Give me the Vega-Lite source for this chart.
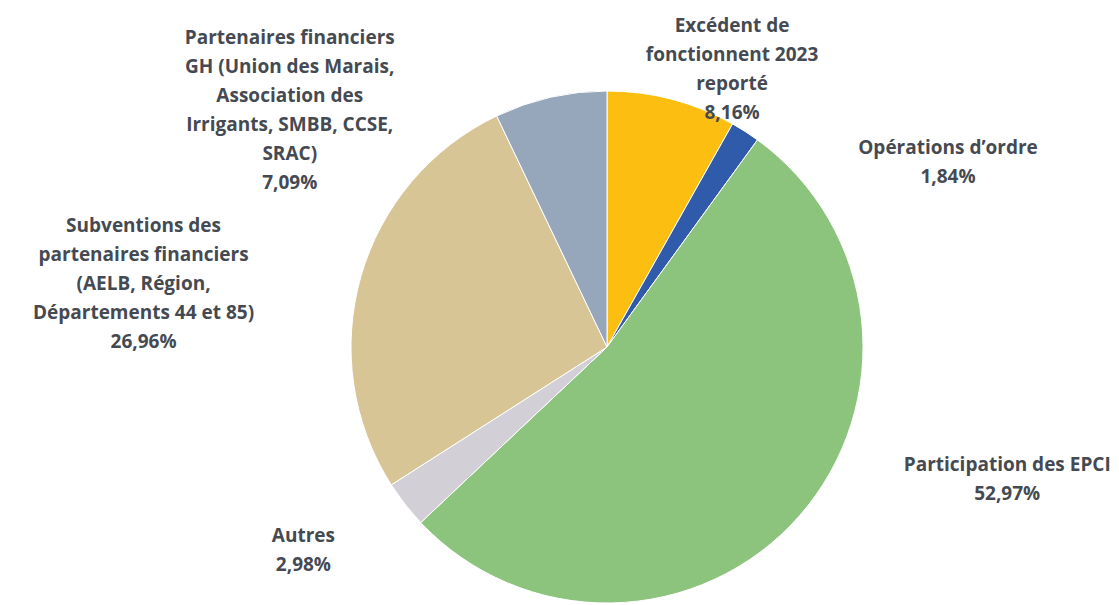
{
  "$schema": "https://vega.github.io/schema/vega-lite/v6.json",
  "width": 1024,
  "height": 516,
  "autosize": {"type": "none"},
  "padding": {"left": 95, "top": 89, "right": 0, "bottom": 0},
  "background": "#ffffff",
  "config": {"view": {"stroke": null}},
  "data": {
    "values": [
      {"ordre": 1, "poste": "Excédent", "label": "Excédent de\nfonctionnent 2023\nreporté\n8,16%", "pct": 8.16},
      {"ordre": 2, "poste": "Opérations", "label": "Opérations d’ordre\n1,84%", "pct": 1.84},
      {"ordre": 3, "poste": "EPCI", "label": "Participation des EPCI\n52,97%", "pct": 52.97},
      {"ordre": 4, "poste": "Autres", "label": "Autres\n2,98%", "pct": 2.98},
      {"ordre": 5, "poste": "Subventions", "label": "Subventions des\npartenaires financiers\n(AELB, Région,\nDépartements 44 et 85)\n26,96%", "pct": 26.96},
      {"ordre": 6, "poste": "GH", "label": "Partenaires financiers\nGH (Union des Marais,\nAssociation des\nIrrigants, SMBB, CCSE,\nSRAC)\n7,09%", "pct": 7.09}
    ]
  },
  "encoding": {
    "theta": {"field": "pct", "type": "quantitative", "stack": true},
    "order": {"field": "ordre", "type": "quantitative"}
  },
  "layer": [
    {
      "mark": {"type": "arc", "outerRadius": 256, "stroke": "#ffffff", "strokeWidth": 1},
      "encoding": {
        "color": {
          "field": "poste", "type": "nominal", "legend": null,
          "scale": {
            "domain": ["Excédent", "Opérations", "EPCI", "Autres", "Subventions", "GH"],
            "range": ["#FDBE12", "#2F5BAA", "#8CC47E", "#D3CFD6", "#D8C596", "#96A6BB"]
          }
        }
      }
    },
    {
      "mark": {"type": "text", "radius": 300, "dx": 49, "dy": -30.5, "lineBreak": "\n", "font": "Open Sans", "fontWeight": "bold", "fontSize": 19, "lineHeight": 29, "align": "center", "baseline": "middle", "color": "#454a52"},
      "encoding": {"text": {"condition": {"test": "datum.ordre == 1", "field": "label"}, "value": ""}}
    },
    {
      "mark": {"type": "text", "radius": 300, "dx": 179, "dy": 53.5, "lineBreak": "\n", "font": "Open Sans", "fontWeight": "bold", "fontSize": 19, "lineHeight": 29, "align": "center", "baseline": "middle", "color": "#454a52"},
      "encoding": {"text": {"condition": {"test": "datum.ordre == 2", "field": "label"}, "value": ""}}
    },
    {
      "mark": {"type": "text", "radius": 300, "dx": 175, "dy": -80.5, "lineBreak": "\n", "font": "Open Sans", "fontWeight": "bold", "fontSize": 19, "lineHeight": 29, "align": "center", "baseline": "middle", "color": "#454a52"},
      "encoding": {"text": {"condition": {"test": "datum.ordre == 3", "field": "label"}, "value": ""}}
    },
    {
      "mark": {"type": "text", "radius": 300, "dx": -67, "dy": 5, "lineBreak": "\n", "font": "Open Sans", "fontWeight": "bold", "fontSize": 19, "lineHeight": 29, "align": "center", "baseline": "middle", "color": "#454a52"},
      "encoding": {"text": {"condition": {"test": "datum.ordre == 4", "field": "label"}, "value": ""}}
    },
    {
      "mark": {"type": "text", "radius": 300, "dx": -175, "dy": -39, "lineBreak": "\n", "font": "Open Sans", "fontWeight": "bold", "fontSize": 19, "lineHeight": 29, "align": "center", "baseline": "middle", "color": "#454a52"},
      "encoding": {"text": {"condition": {"test": "datum.ordre == 5", "field": "label"}, "value": ""}}
    },
    {
      "mark": {"type": "text", "radius": 300, "dx": -251, "dy": -16.5, "lineBreak": "\n", "font": "Open Sans", "fontWeight": "bold", "fontSize": 19, "lineHeight": 29, "align": "center", "baseline": "middle", "color": "#454a52"},
      "encoding": {"text": {"condition": {"test": "datum.ordre == 6", "field": "label"}, "value": ""}}
    }
  ]
}
